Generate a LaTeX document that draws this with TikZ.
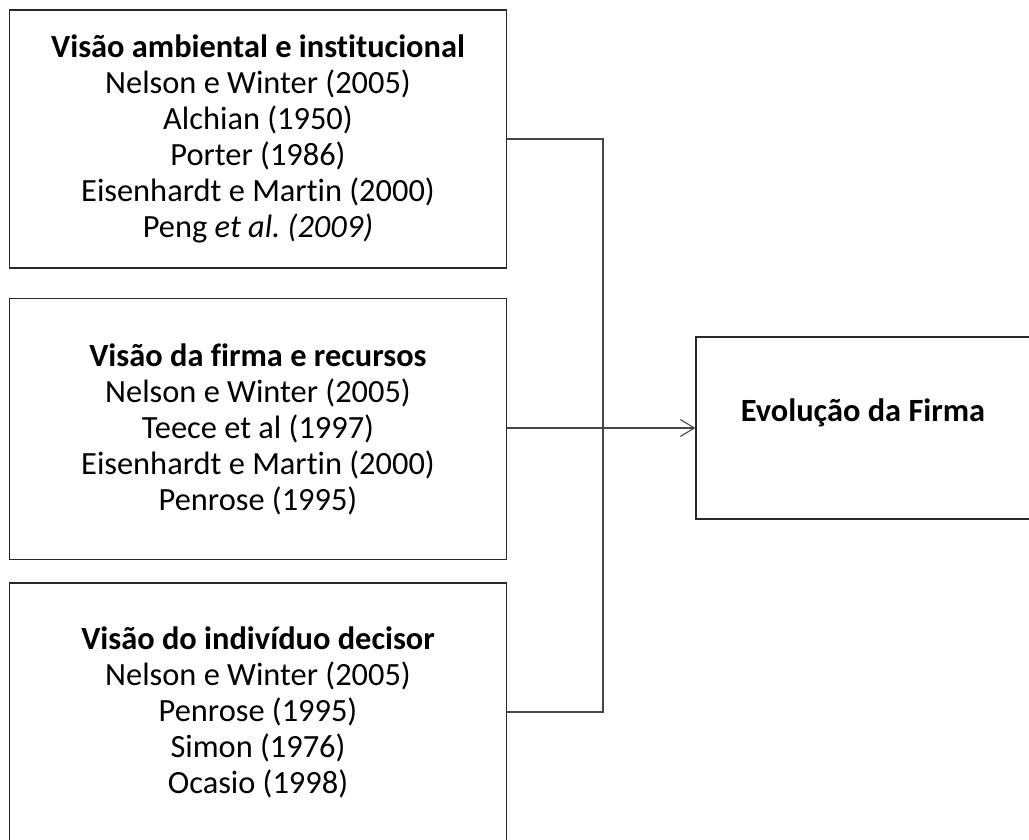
\documentclass[tikz,border=0pt]{standalone}
\usepackage{fontspec}
\setmainfont{Carlito}[RawFeature=-liga]
\usetikzlibrary{arrows.meta, positioning}
\definecolor{frameline}{RGB}{40, 40, 40}
\definecolor{linkline}{RGB}{70, 70, 70}

\begin{document}
\begin{tikzpicture}[
    x = 1pt, y = -1pt,
    every node/.style = {font=\fontsize{32.4}{36}\selectfont},
    srcbox/.style = {draw=frameline, line width=1.2pt, align=center,
                     minimum width=497pt, minimum height=258pt, inner sep=0pt},
    goalbox/.style = {draw=frameline, line width=1.2pt, align=center,
                      minimum width=334pt, minimum height=182pt, inner sep=0pt},
    link/.style = {draw=linkline, line width=1.1pt},
    arrow/.style = {link, -{Straight Barb[length=14pt, width=17pt, line width=1.1pt]}}
]
  \useasboundingbox (0,0) rectangle (1029,840);

  \node[srcbox] (ambiente) at (258,139) {\textbf{Visão ambiental e institucional}\\
    Nelson e Winter (2005)\\ Alchian (1950)\\ Porter (1986)\\
    Eisenhardt e Martin (2000)\\ Peng {\itshape et al.\ (2009)}};
  \node[srcbox, minimum height=261pt] (firma) at (258,429) {\textbf{Visão da firma e recursos}\\
    Nelson e Winter (2005)\\ Teece et al (1997)\\
    Eisenhardt e Martin (2000)\\ Penrose (1995)};
  \node[srcbox] (decisor) at (258,712) {\textbf{Visão do indivíduo decisor}\\
    Nelson e Winter (2005)\\ Penrose (1995)\\ Simon (1976)\\ Ocasio (1998)};
  \node[goalbox] (evolucao) at (863,428) {\textbf{Evolução da Firma}\\ \mbox{}};

  \coordinate (juncao) at (603,428);

  \draw[link] (ambiente.east) -| (juncao);
  \draw[link] (decisor.east) -| (juncao);
  \draw[link] (firma.east |- juncao) -- (juncao);
  \draw[arrow] (juncao) -- (evolucao.west);
\end{tikzpicture}
\end{document}
